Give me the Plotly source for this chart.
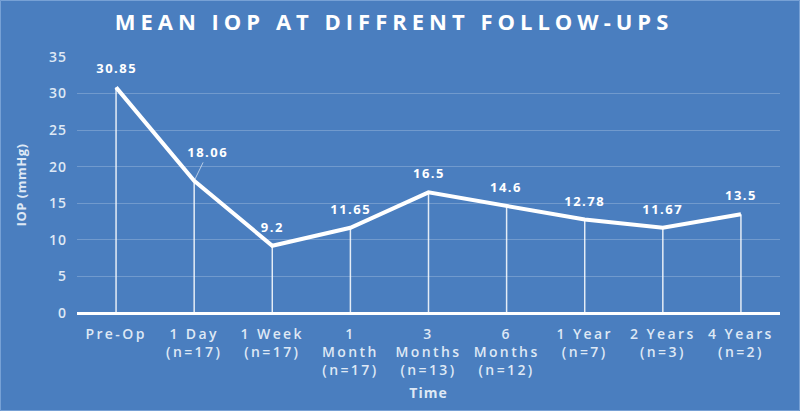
import plotly.graph_objects as go

categories = ["Pre-Op", "1 Day<br>(n=17)", "1 Week<br>(n=17)", "1<br>Month<br>(n=17)",
              "3<br>Months<br>(n=13)", "6<br>Months<br>(n=12)", "1 Year<br>(n=7)",
              "2 Years<br>(n=3)", "4 Years<br>(n=2)"]
iop_values = [30.85, 18.06, 9.2, 11.65, 16.5, 14.6, 12.78, 11.67, 13.5]
value_labels = ["30.85", "18.06", "9.2", "11.65", "16.5", "14.6", "12.78", "11.67", "13.5"]
y_ticks = [0, 5, 10, 15, 20, 25, 30, 35]

BG = "rgb(74,126,191)"
TICK = "rgb(222,232,245)"
FONT = "Open Sans"
ML, MR, MT, MB = 77, 20, 57, 98
W, H = 800, 411
PW, PH = W - ML - MR, H - MT - MB

fig = go.Figure()
fig.add_trace(go.Scatter(
    x=categories, y=iop_values, mode="lines",
    line=dict(color="white", width=4),
    error_y=dict(type="data", symmetric=False, array=[0] * len(iop_values),
                 arrayminus=iop_values, thickness=1.5, width=0,
                 color="rgba(255,255,255,0.85)"),
    hoverinfo="skip", showlegend=False,
))

annotations = []
for i, (c, v, t) in enumerate(zip(categories, iop_values, value_labels)):
    if i == 1:
        annotations.append(dict(x=c, y=v, text="<b>" + t + "</b>", showarrow=True,
                                arrowhead=0, arrowwidth=1, arrowcolor="rgba(255,255,255,0.6)",
                                ax=14, ay=-29, font=dict(family=FONT, size=13, color="white")))
    else:
        annotations.append(dict(x=c, y=v, text="<b>" + t + "</b>", showarrow=False,
                                yshift=19, yanchor="middle",
                                font=dict(family=FONT, size=13, color="white")))

fig.update_layout(
    width=W, height=H,
    paper_bgcolor=BG, plot_bgcolor=BG,
    margin=dict(l=ML, r=MR, t=MT, b=MB),
    title=dict(text="<b>MEAN IOP AT DIFFRENT FOLLOW-UPS</b>", x=0.4925, xanchor="center",
               y=1 - 22 / H, yanchor="middle",
               font=dict(family=FONT, size=22, color="white")),
    annotations=annotations,
    font=dict(family=FONT, color=TICK),
    shapes=[dict(type="rect", xref="paper", yref="paper",
                 x0=-(ML - 0.5) / PW, x1=1 + (MR - 0.5) / PW,
                 y0=-(MB - 0.5) / PH, y1=1 + (MT - 0.5) / PH,
                 line=dict(color="rgba(150,185,228,0.6)", width=1), layer="above")],
)
fig.update_xaxes(
    type="category", range=[-0.5, 8.5], showgrid=False, zeroline=False,
    showline=False, tickfont=dict(family=FONT, size=14, color=TICK, weight=600),
    ticks="", ticklabelstandoff=11, automargin=False,
    title=dict(text="<b>Time</b>", font=dict(family=FONT, size=14, color=TICK),
               standoff=9),
)
fig.update_yaxes(
    range=[0, 35], tickvals=y_ticks, showgrid=True, gridcolor="rgba(255,255,255,0.22)",
    gridwidth=1, zeroline=True, zerolinecolor="white", zerolinewidth=2.5,
    tickfont=dict(family=FONT, size=14, color=TICK, weight=600), ticks="", ticklabelstandoff=9,
    automargin=False,
    title=dict(text="<b>IOP (mmHg)</b>", font=dict(family=FONT, size=13, color=TICK),
               standoff=21),
)

post = """
document.body.style.margin='0';
var gd=document.getElementById('{plot_id}');
function ls(sel,v){gd.querySelectorAll(sel).forEach(function(e){e.style.letterSpacing=v;});}
ls('.gtitle','5px');
ls('.xtick text','2.4px');
ls('.ytick text','1px');
ls('.annotation-text','1.5px');
ls('.g-xtitle text','1px');
ls('.g-ytitle text','0.5px');
"""
fig.write_html("out.html", post_script=post, config={"displayModeBar": False})
